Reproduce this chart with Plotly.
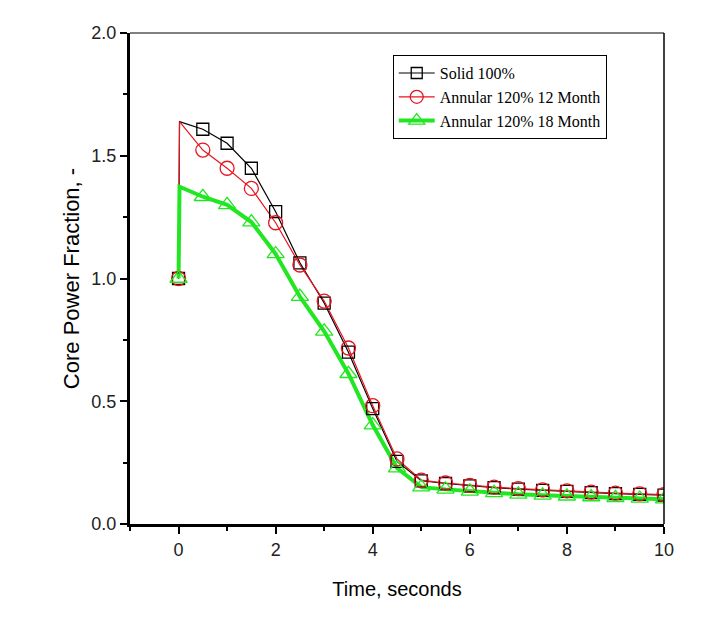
import plotly.graph_objects as go

# marker times (s)
t_marks = [0, 0.5, 1.0, 1.5, 2.0, 2.5, 3.0, 3.5, 4.0, 4.5, 5.0, 5.5, 6.0, 6.5, 7.0, 7.5, 8.0, 8.5, 9.0, 9.5, 10.0]
solid_100 = [1.0, 1.608, 1.551, 1.449, 1.272, 1.064, 0.900, 0.700, 0.470, 0.255, 0.176, 0.165, 0.155, 0.148, 0.142, 0.137, 0.133, 0.128, 0.124, 0.121, 0.118]
annular_12 = [1.0, 1.523, 1.449, 1.367, 1.227, 1.055, 0.908, 0.717, 0.482, 0.265, 0.179, 0.167, 0.157, 0.150, 0.144, 0.139, 0.135, 0.130, 0.126, 0.123, 0.120]
annular_18 = [1.0, 1.333, 1.300, 1.230, 1.100, 0.926, 0.785, 0.612, 0.403, 0.228, 0.150, 0.141, 0.133, 0.127, 0.121, 0.117, 0.113, 0.110, 0.107, 0.104, 0.101]

# peak just after the step at t = 0
t_peak = 0.02
peak_solid = 1.639
peak_12 = 1.639
peak_18 = 1.374

series = [
    ("Solid 100%", solid_100, peak_solid, "black", 1.2, "square-open", 12),
    ("Annular 120% 12 Month", annular_12, peak_12, "#e8141e", 1.2, "circle-open", 14),
    ("Annular 120% 18 Month", annular_18, peak_18, "#22e622", 4, "triangle-up-open", 15),
]

fig = go.Figure()
for name, vals, peak, color, lw, sym, ms in series:
    tx = [t_marks[0], t_peak] + t_marks[1:]
    ty = [vals[0], peak] + vals[1:]
    fig.add_trace(go.Scatter(x=tx, y=ty, mode="lines", line=dict(color=color, width=lw),
                             showlegend=False, hoverinfo="skip"))
for name, vals, peak, color, lw, sym, ms in series:
    fig.add_trace(go.Scatter(x=t_marks, y=vals, mode="markers",
                             marker=dict(symbol=sym, size=ms, color=color,
                                         line=dict(color=color, width=1.3)),
                             showlegend=False))
for i, (name, vals, peak, color, lw, sym, ms) in enumerate(series):
    fig.add_trace(go.Scatter(x=[None], y=[None], mode="lines+markers", name=name,
                             line=dict(color=color, width=lw),
                             marker=dict(symbol=sym, size=ms - 1, color=color,
                                         line=dict(color=color, width=1.3))))

fig.update_layout(
    width=704, height=624,
    margin=dict(l=122, r=48, t=25, b=108),
    paper_bgcolor="white", plot_bgcolor="white",
    font=dict(family="Liberation Sans, Arial", color="black"),
    legend=dict(x=0.492, y=0.955, xanchor="left", yanchor="top",
                bgcolor="white", bordercolor="black", borderwidth=1,
                font=dict(family="Liberation Serif, Times New Roman", size=16, color="black"),
                tracegroupgap=0, itemwidth=36),
    xaxis=dict(range=[-1, 10], tickvals=[0, 2, 4, 6, 8, 10], ticks="outside", ticklen=7,
               tickwidth=2, tickcolor="black", showline=True, linewidth=3, linecolor="black",
               showgrid=False, zeroline=False,
               minor=dict(dtick=1, tick0=0, ticks="outside", ticklen=4, tickwidth=2, tickcolor="black"),
               tickfont=dict(size=18, color="#222"),
               title=dict(text="Time, seconds", font=dict(size=20), standoff=24)),
    yaxis=dict(range=[0, 2], dtick=0.5, tick0=0, tickformat=".1f", ticks="outside", ticklen=7,
               tickwidth=2, tickcolor="black", showline=True, linewidth=3, linecolor="black",
               showgrid=False, zeroline=False,
               minor=dict(dtick=0.25, tick0=0, ticks="outside", ticklen=4, tickwidth=2, tickcolor="black"),
               tickfont=dict(size=18, color="#222"),
               title=dict(text="Core Power Fraction, -", font=dict(size=22), standoff=6)),
    shapes=[
        dict(type="line", xref="paper", yref="paper", x0=0, x1=1, y0=1, y1=1,
             line=dict(color="black", width=1)),
        dict(type="line", xref="paper", yref="paper", x0=1, x1=1, y0=0, y1=1,
             line=dict(color="black", width=1.5)),
    ],
)

fig.write_html("out.html")
